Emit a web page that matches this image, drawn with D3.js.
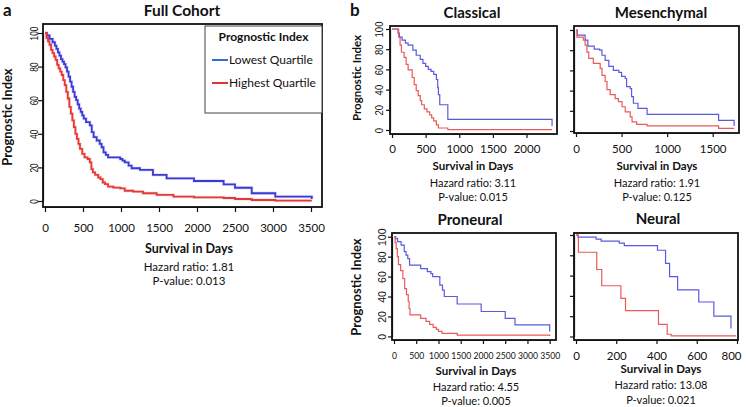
<!DOCTYPE html>
<html><head><meta charset="utf-8">
<script src="https://cdn.jsdelivr.net/npm/d3@7"></script>
<style>
body{margin:0;background:#fff}
svg{display:block}
</style>
</head><body>
<svg id="chart" width="746" height="407"></svg>
<script>
// ---------------- DATA ----------------
const panelTitles = ["Full Cohort", "Classical", "Mesenchymal", "Proneural", "Neural"];
const hazardRatios = ["1.81", "3.11", "1.91", "4.55", "13.08"];
const pValues = ["0.013", "0.015", "0.125", "0.005", "0.021"];
const legendTitle = "Prognostic Index";
const legendLabels = ["Lowest Quartile", "Highest Quartile"];
const yTicks = [0, 20, 40, 60, 80, 100];
const fullTicks = [0, 500, 1000, 1500, 2000, 2500, 3000, 3500];
const classicalTicks = [0, 500, 1000, 1500, 2000];
const mesenchymalTicks = [0, 500, 1000, 1500];
const proneuralTicks = [0, 500, 1000, 1500, 2000, 2500, 3000, 3500];
const neuralTicks = [0, 200, 400, 600, 800];

// [day, percent] step points
const fullLowest = [[0,100],[25,98.5],[60,96.5],[100,94.5],[130,92.5],[150,90.5],[170,88.5],[190,86.5],[210,84.5],[230,83],[250,81.5],[270,79.5],[290,77],[310,74],[330,71],[350,68],[370,65],[390,62],[410,60],[430,57.5],[450,55],[470,53],[490,51],[510,49],[540,47],[590,45],[615,41],[640,38],[680,36],[720,34],[745,32],[770,29],[800,27.5],[830,26],[990,25],[1020,24],[1050,23],[1100,21],[1140,19.5],[1250,18.5],[1420,15.5],[1600,13.5],[1960,11.9],[2350,9.9],[2500,7.9],[2720,4.6],[3030,2.6],[3510,2.6],[3510,1.2]];
const fullHighest = [[0,100],[20,97],[40,95],[60,93],[80,90],[100,88],[120,86],[140,84],[160,81],[180,79],[200,77],[220,75],[240,72],[260,69],[280,65],[300,61],[320,56],[340,52],[360,48],[380,44],[400,40],[420,37],[440,34],[460,31],[490,28],[520,26],[560,25],[590,23],[610,19],[630,17],[660,15.5],[700,14],[730,13],[760,11],[790,10],[830,8.5],[900,8],[990,7.5],[1050,6.1],[1160,5.6],[1290,4.6],[1470,3.6],[1690,2.6],[1960,2.2],[2350,1.8],[2500,1.2],[2720,0.6],[3030,0.2],[3510,0.2]];
const classicalLowest = [[0,100],[90,96],[110,92],[150,89],[200,86],[240,84],[310,79],[360,74],[420,70],[460,66],[500,63],[540,60],[580,58],[620,55],[660,50],[680,42],[690,35],[710,25],[830,10.5],[2380,10.5],[2380,4]];
const classicalHighest = [[0,100],[100,92],[120,84],[140,77],[180,72],[210,65],[240,59.5],[300,52],[330,45],[360,39],[390,34],[420,29],[440,25],[480,21],[520,18],[560,15],[590,12],[620,9],[660,5],[690,2],[830,0.3],[2380,0.3]];
const mesenchymalLowest = [[0,100],[15,95],[100,90],[130,84],[200,81],[260,80],[285,75],[320,70],[360,64],[410,60],[470,58],[500,54],[540,52],[555,44],[595,42],[610,34],[630,27.5],[680,22.5],[780,16.5],[1565,10.5],[1735,10.5],[1735,5]];
const mesenchymalHighest = [[0,100],[10,93],[80,90],[100,85],[120,78],[140,72],[190,67],[265,62],[285,55],[320,49],[340,41],[375,36],[430,32],[465,29],[505,24],[540,19],[595,14],[615,9],[665,6.5],[780,5],[1565,2.6],[1735,2.6]];
const proneuralLowest = [[0,100],[40,98],[80,95],[160,91.5],[230,85],[270,81.5],[310,78],[350,71.5],[600,68],[750,65],[830,63],[870,60],[1030,51.5],[1090,46.5],[1130,40],[1420,32.5],[1960,25],[2500,18],[2720,11.5],[3500,11.5],[3500,5]];
const proneuralHighest = [[0,100],[25,94],[50,88],[75,80],[100,72],[150,66],[200,58],[240,48],[280,42],[320,35],[340,28],[360,21.5],[600,18],[720,15],[800,12],[880,9],[950,7],[1000,5],[1080,3],[1420,1.2],[3500,0.5]];
const neuralLowest = [[0,100],[10,98],[100,96],[125,94],[215,92],[240,89.5],[405,85],[445,72],[465,59],[505,46],[610,34],[685,20],[770,20],[770,8]];
const neuralHighest = [[0,100],[12,83],[103,66],[128,50],[223,37.5],[246,25.5],[410,12],[453,2.2],[473,0.6],[795,0.6]];

const lowestSeries = [fullLowest, classicalLowest, mesenchymalLowest, proneuralLowest, neuralLowest];
const highestSeries = [fullHighest, classicalHighest, mesenchymalHighest, proneuralHighest, neuralHighest];
const xTickSets = [fullTicks, classicalTicks, mesenchymalTicks, proneuralTicks, neuralTicks];

// ---------------- LAYOUT ----------------
const FONT = "Lato, 'Open Sans', sans-serif";
const RFONT = "'Liberation Sans', Arial, sans-serif";
const layout = [
  {box:[43,24,322,207], xr:[45,311], yr:[201,33], sw:1.8, tick:5, xFont:11.5, xLabY:231.5,
   yLab:true, yLabOff:4.7, yFont:10.5, ySquash:0.8, yTitle:{x:12,y:117,size:13},
   title:{x:182,y:16,size:15.5}, sub:{x:189,y:[253,271,285],size:[12.5,11.5,11.5]}, colors:["#3a3ad9","#e53838"]},
  {box:[390,26,557,134], xr:[392,526.5], yr:[130,29], sw:1.2, tick:4, xFont:11.5, xLabY:153,
   yLab:true, yLabOff:6.7, yFont:10, ySquash:0.95, yTitle:{x:361,y:78,size:11.5},
   title:{x:472,y:18,size:15}, sub:{x:473,y:[170,187,201],size:[11.5,11,11]}, colors:["#5a5adc","#e95a5a"]},
  {box:[574,26,739,133], xr:[576,712.7], yr:[131,30], sw:1.2, tick:4, xFont:11.5, xLabY:153,
   yLab:false, title:{x:661,y:18,size:15}, sub:{x:657,y:[170,187,201],size:[11.5,11,11]}, colors:["#5a5adc","#e95a5a"]},
  {box:[392,233,556,340], xr:[394,549.7], yr:[336.4,236.7], sw:1.2, tick:4, xFont:8.6, xLabY:359,
   yLab:true, yLabOff:6.3, yFont:10.5, ySquash:1, yTitle:{x:361,y:287,size:13},
   title:{x:470,y:225,size:15}, sub:{x:476,y:[375,391,405],size:[11.5,11,11]}, colors:["#5a5adc","#e95a5a"]},
  {box:[574,233,738,340], xr:[576,737], yr:[336.5,235], sw:1.2, tick:4, xFont:11.5, xLabY:360,
   yLab:false, lastLabelShift:-6,
   title:{x:658,y:224,size:15}, sub:{x:661,y:[373,389,404],size:[11.5,11,11]}, colors:["#5a5adc","#e95a5a"]}
];

const svg = d3.select("#chart");
svg.append("rect").attr("width",746).attr("height",407).attr("fill","#fff");

function drawPanel(i) {
  const L = layout[i];
  const ticks = xTickSets[i];
  const x = d3.scaleLinear().domain([0, d3.max(ticks)]).range(L.xr);
  const y = d3.scaleLinear().domain([0, 100]).range(L.yr);
  const line = d3.line().x(d => x(d[0])).y(d => y(d[1])).curve(d3.curveStepAfter);
  const g = svg.append("g");

  [lowestSeries[i], highestSeries[i]].forEach((data, k) => {
    if (i === 0) {
      g.append("path").datum(data).attr("d", line).attr("fill","none")
        .attr("stroke", L.colors[k]).attr("stroke-opacity",0.15).attr("stroke-width", L.sw + 1.5);
    }
    g.append("path").datum(data).attr("d", line).attr("fill","none")
      .attr("stroke", L.colors[k]).attr("stroke-width", L.sw);
  });

  // box
  g.append("rect").attr("x", L.box[0]).attr("y", L.box[1])
    .attr("width", L.box[2]-L.box[0]).attr("height", L.box[3]-L.box[1])
    .attr("fill","none").attr("stroke","#111").attr("stroke-width", 1.8);

  // x axis
  const gx = g.append("g").attr("transform", `translate(0,${L.box[3]})`)
    .call(d3.axisBottom(x).tickValues(ticks).tickSize(L.tick).tickSizeOuter(0).tickFormat(d3.format("d")));
  gx.select(".domain").attr("stroke","#111").attr("stroke-width",1.2);
  gx.selectAll(".tick line").attr("stroke","#111").attr("stroke-width",1.2);
  gx.selectAll("text").attr("y", L.xLabY - L.box[3]).attr("dy", 0)
    .style("font-family", FONT).style("font-size", L.xFont + "px").attr("fill","#111");
  if (L.lastLabelShift) {
    gx.selectAll(".tick").filter((d, j, n) => j === n.length - 1).select("text").attr("x", L.lastLabelShift);
  }

  // y axis
  const gy = g.append("g").attr("transform", `translate(${L.box[0]},0)`)
    .call(d3.axisLeft(y).tickValues(yTicks).tickSize(L.tick).tickSizeOuter(0)
      .tickFormat(L.yLab ? d3.format("d") : () => ""));
  gy.select(".domain").attr("stroke","#111").attr("stroke-width",1.2);
  gy.selectAll(".tick line").attr("stroke","#111").attr("stroke-width",1.2);
  if (L.yLab) {
    gy.selectAll("text")
      .attr("transform", `rotate(-90) scale(${L.ySquash},1)`)
      .attr("x", 0).attr("y", -L.yLabOff).attr("dy", 0)
      .attr("text-anchor","middle")
      .style("font-family", RFONT).style("font-size", L.yFont + "px").attr("fill","#111");
    g.append("text").attr("transform", `translate(${L.yTitle.x},${L.yTitle.y}) rotate(-90)`)
      .attr("text-anchor","middle").style("font-family", FONT).style("font-weight","bold")
      .style("font-size", L.yTitle.size + "px").attr("fill","#111").text("Prognostic Index");
  }

  // title
  g.append("text").attr("x", L.title.x).attr("y", L.title.y).attr("text-anchor","middle")
    .style("font-family", FONT).style("font-weight","bold").style("font-size", L.title.size + "px")
    .attr("fill","#111").text(panelTitles[i]);

  // subtitles
  const subs = ["Survival in Days", "Hazard ratio: " + hazardRatios[i], "P-value: " + pValues[i]];
  subs.forEach((s, k) => {
    g.append("text").attr("x", L.sub.x).attr("y", L.sub.y[k]).attr("text-anchor","middle")
      .style("font-family", FONT).style("font-weight", k === 0 ? "bold" : "normal")
      .style("font-size", L.sub.size[k] + "px").attr("fill","#111").text(s);
  });
}

for (let i = 0; i < 5; i++) drawPanel(i);

// legend (full cohort)
const lg = svg.append("g");
lg.append("rect").attr("x",205).attr("y",26).attr("width",117).attr("height",87)
  .attr("fill","#fff").attr("stroke","#444").attr("stroke-width",1);
lg.append("text").attr("x",263.5).attr("y",40.5).attr("text-anchor","middle")
  .style("font-family",FONT).style("font-weight","bold").style("font-size","12px").attr("fill","#111").text(legendTitle);
const legendColors = ["#2f6fd3", "#e8302f"];
legendLabels.forEach((lab, k) => {
  const yy = [60, 83][k];
  lg.append("line").attr("x1",212).attr("x2",228).attr("y1",yy).attr("y2",yy)
    .attr("stroke",legendColors[k]).attr("stroke-width",2);
  lg.append("text").attr("x",229).attr("y",yy+4).style("font-family",FONT)
    .style("font-size","12px").attr("fill","#111").text(lab);
});

// panel letters
svg.append("text").attr("x",3).attr("y",16).style("font-family",FONT).style("font-weight","bold")
  .style("font-size","17px").attr("fill","#111").text("a");
svg.append("text").attr("x",350).attr("y",16).style("font-family",FONT).style("font-weight","bold")
  .style("font-size","17px").attr("fill","#111").text("b");
</script>
</body></html>
